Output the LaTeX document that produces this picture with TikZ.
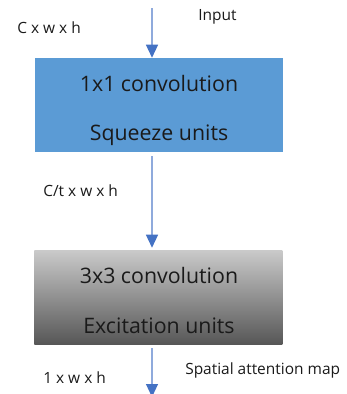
\documentclass[tikz,border=0pt]{standalone}
\usepackage{fontspec}
\setmainfont{Open Sans}
\usetikzlibrary{arrows.meta, positioning}

\definecolor{boxblue}{HTML}{5B9BD5}
\definecolor{linkblue}{HTML}{8FAADC}
\definecolor{tipblue}{HTML}{4472C4}
\definecolor{greytop}{HTML}{CACACA}
\definecolor{greybot}{HTML}{575757}
\definecolor{ink}{HTML}{1A1A1A}

\begin{document}
\begin{tikzpicture}[
    x=0.75pt, y=-0.75pt,
    block/.style={minimum width=186pt, minimum height=70.5pt, inner sep=0pt,
        align=center, text=ink, font=\fontsize{16}{37}\selectfont},
    squeeze/.style={block, fill=boxblue},
    excite/.style={block, top color=greytop, bottom color=greybot},
    dim/.style={anchor=base west, inner sep=0pt, text=ink, font=\fontsize{11.6}{12}\selectfont},
    arr/.style={draw=linkblue, line width=0.9pt,
        -{Triangle[length=9.75pt, width=9pt, color=tipblue, fill=tipblue]}}
]
\useasboundingbox (0,0) rectangle (347,394);

% the two convolution blocks
\node[squeeze] (sq) at (159,105) {};
\node[excite] (ex) at (158.5,297) {};
\node[block, anchor=base] (sqa) at (159,91) {1x1 convolution};
\node[block, anchor=base] (sqb) at (159,140) {Squeeze units};
\node[block, anchor=base] (exa) at (159,283) {3x3 convolution};
\node[block, anchor=base] (exb) at (159,333) {Excitation units};

% free ends of the flow
\coordinate (in) at (152,8);
\coordinate (out) at (152,397);

\draw[arr] (in) -- (sq.north -| in);
\draw[arr, shorten <=3pt, shorten >=1.5pt] (sq.south -| in) -- (ex.north -| in);
\draw[arr, shorten <=3pt] (ex.south -| in) -- (out);

% tensor sizes and labels
\node[dim] (lin) at (198,20.5) {Input};
\node[dim] (d0) at (17,33) {C x w x h};
\node[dim] (d1) at (43,196) {C/t x w x h};
\node[dim] (d2) at (43,383) {1 x w x h};
\node[dim] (lout) at (185,374) {Spatial attention map};
\end{tikzpicture}
\end{document}
